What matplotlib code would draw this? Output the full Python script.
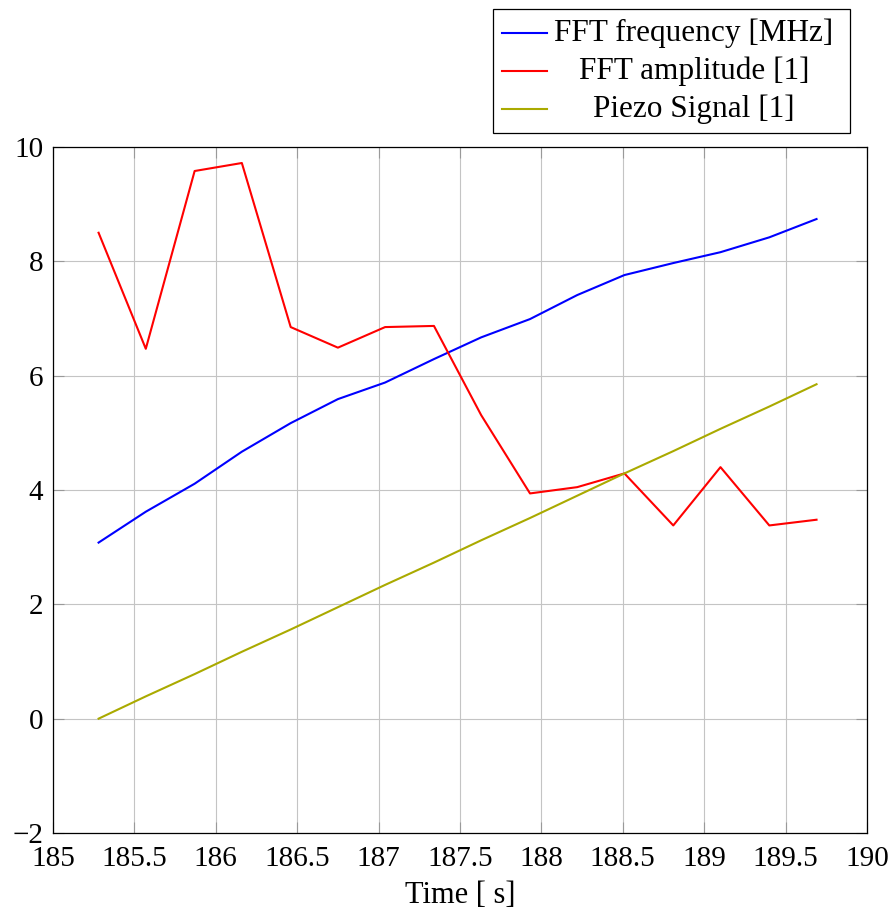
import matplotlib
matplotlib.use("Agg")
import matplotlib.pyplot as plt
from matplotlib.lines import Line2D
from matplotlib.patches import Rectangle

plt.rcParams['font.family'] = ['Liberation Serif', 'DejaVu Serif']

# Sample times [s]
time_s = [185.28, 185.57, 185.87, 186.16, 186.46, 186.75, 187.04, 187.34,
          187.63, 187.93, 188.22, 188.51, 188.81, 189.10, 189.40, 189.69]
# FFT peak frequency [MHz]
fft_freq = [3.08, 3.62, 4.11, 4.67, 5.17, 5.59, 5.88, 6.29,
            6.67, 6.99, 7.41, 7.76, 7.97, 8.16, 8.42, 8.74]
# FFT peak amplitude [1]
fft_amp = [8.50, 6.47, 9.58, 9.72, 6.85, 6.49, 6.85, 6.87,
           5.31, 3.94, 4.05, 4.29, 3.38, 4.40, 3.38, 3.48]
# Piezo drive signal [1]
piezo = [0.00, 0.39, 0.78, 1.17, 1.56, 1.95, 2.34, 2.73,
         3.12, 3.51, 3.90, 4.29, 4.68, 5.07, 5.46, 5.85]

labels = ["FFT frequency [MHz]", "FFT amplitude [1]", "Piezo Signal [1]"]
colors = ["#0000ff", "#ff0000", "#aaaa00"]

W, H = 894, 917
fig = plt.figure(figsize=(W / 100, H / 100), dpi=100)
ax = fig.add_axes([53 / W, 1 - 833 / H, (867 - 53) / W, (833 - 147) / H])

for y, c in zip([fft_freq, fft_amp, piezo], colors):
    ax.plot(time_s, y, color=c, lw=1.5, zorder=3)

ax.set_xlim(185, 190)
ax.set_ylim(-2, 10)
ax.set_xticks([185, 185.5, 186, 186.5, 187, 187.5, 188, 188.5, 189, 189.5, 190])
ax.set_xticklabels(["185", "185.5", "186", "186.5", "187", "187.5", "188",
                    "188.5", "189", "189.5", "190"])
ax.set_yticks([-2, 0, 2, 4, 6, 8, 10])
ax.set_yticklabels(["\u22122", "0", "2", "4", "6", "8", "10"])
ax.grid(True, color="#c4c4c4", lw=0.8, zorder=0)
ax.tick_params(direction="in", length=8, width=0.8, color="#999999",
               labelsize=21, top=True, right=True)
ax.tick_params(axis="x", pad=9)
ax.tick_params(axis="y", pad=7)
for s in ax.spines.values():
    s.set_linewidth(0.9)
    s.set_color("black")
ax.set_xlabel("Time [ s]", fontsize=22, labelpad=7)

# Legend box above the axes, with centred entries
lx0, ly0, lx1, ly1 = 493, 9, 850, 133
fig.patches.append(Rectangle((lx0 / W, 1 - ly1 / H), (lx1 - lx0) / W,
                             (ly1 - ly0) / H, transform=fig.transFigure,
                             fill=False, edgecolor="black", lw=0.9))
rows = [33, 71, 109]
for lab, c, ry in zip(labels, colors, rows):
    fig.lines.append(Line2D([502 / W, 547 / W], [1 - ry / H, 1 - ry / H],
                            transform=fig.transFigure, color=c, lw=1.5))
    fig.text(694 / W, 1 - ry / H, lab, ha="center", va="center", fontsize=22.5)

fig.savefig("out.png", dpi=100)
